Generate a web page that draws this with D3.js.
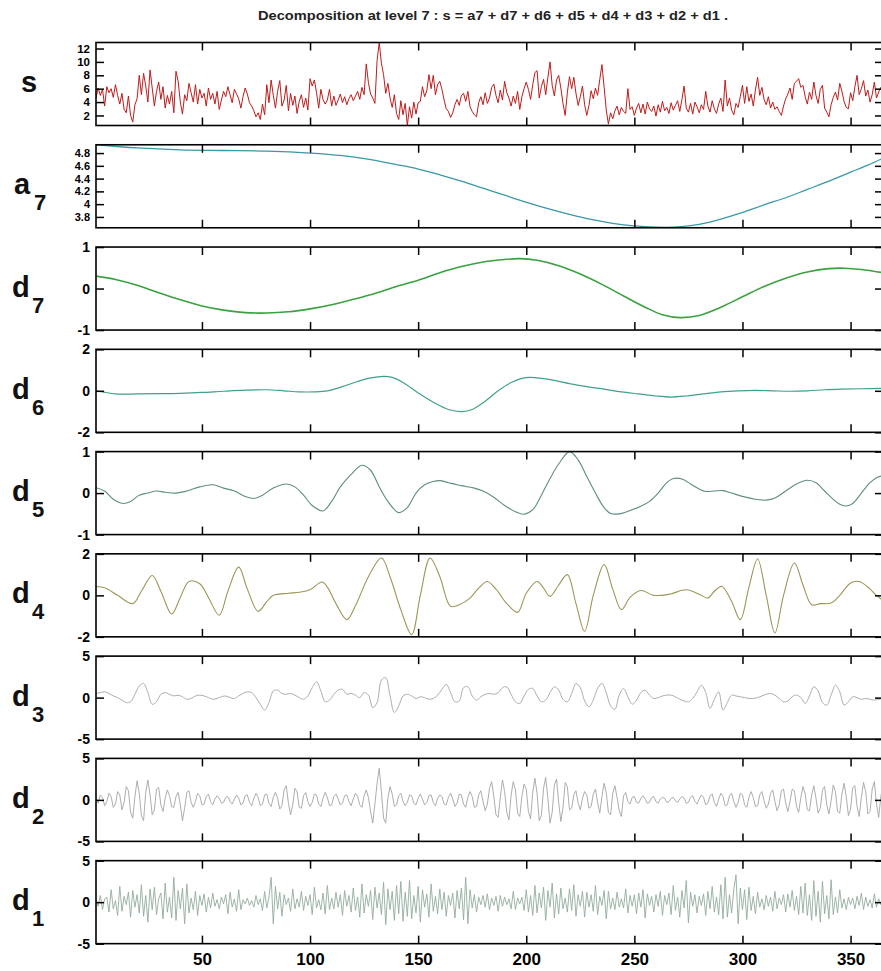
<!DOCTYPE html>
<html>
<head>
<meta charset="utf-8">
<script src="https://cdn.jsdelivr.net/npm/d3@7"></script>
<style>
  html, body { margin: 0; padding: 0; background: #fff; }
  svg { display: block; }
  text { font-family: "Liberation Sans", Arial, Helvetica, sans-serif; }
  .axis text { font-weight: bold; fill: #000; }
  .axis line { stroke: #000; stroke-width: 1.5; }
  .axis path { display: none; }
</style>
</head>
<body>
<svg id="chart" width="881" height="971"></svg>
<script>
// ---- data -------------------------------------------------------------
// Signal s, one value per day (1..365)
const sValues = [
  4.6, 6.1, 5.0, 5.9, 3.4, 6.3, 5.4, 6.0, 4.7, 6.6,
  5.0, 3.7, 5.3, 2.9, 2.4, 4.9, 2.0, 1.0, 3.6, 4.5,
  8.0, 5.1, 8.3, 6.4, 4.0, 8.8, 6.1, 3.4, 5.6, 7.0,
  4.4, 6.3, 3.1, 5.0, 3.7, 5.6, 2.4, 8.6, 7.1, 4.0,
  2.2, 5.1, 4.2, 6.8, 5.4, 4.0, 6.6, 3.7, 5.9, 4.6,
  5.3, 3.4, 6.1, 4.4, 5.3, 3.7, 5.6, 2.9, 4.3, 5.6,
  4.8, 6.3, 5.1, 3.9, 5.9, 5.2, 4.5, 3.1, 4.8, 6.1,
  5.2, 3.9, 3.4, 2.7, 1.8, 2.4, 1.4, 3.7, 2.1, 6.6,
  3.9, 7.3, 5.0, 3.1, 5.6, 7.2, 3.4, 4.3, 6.5, 2.7,
  5.3, 3.5, 4.9, 2.3, 4.1, 5.1, 3.2, 4.6, 2.8, 7.5,
  6.4, 7.3, 5.4, 3.1, 5.9, 4.4, 3.7, 4.3, 5.9, 3.4,
  4.9, 3.5, 4.3, 5.2, 3.9, 4.8, 3.6, 4.5, 5.1, 4.2,
  4.9, 5.6, 4.4, 6.2, 5.1, 9.7, 6.9, 5.2, 4.6, 3.8,
  10.2, 12.9, 9.8, 8.1, 5.3, 6.8, 4.6, 3.2, 5.1, 2.3,
  1.4, 4.2, 2.1, 3.8, 0.5, 3.3, 1.6, 4.0, 2.2, 3.9,
  4.1, 6.3, 4.8, 5.7, 8.1, 6.0, 8.0, 5.1, 6.6, 7.1,
  5.9, 4.3, 3.0, 2.6, 1.7, 2.4, 3.6, 4.4, 3.5, 5.0,
  5.3, 4.1, 5.6, 3.3, 2.6, 2.1, 1.8, 3.9, 4.8, 3.6,
  5.4, 3.8, 4.6, 6.2, 6.7, 5.0, 3.9, 5.8, 4.3, 7.1,
  5.4, 4.6, 3.4, 4.9, 3.8, 5.6, 2.9, 4.8, 6.0, 7.0,
  5.9, 4.4, 6.6, 8.4, 8.7, 4.6, 6.3, 7.4, 5.1, 7.7,
  10.0, 6.5, 4.9, 7.3, 8.0, 6.1, 3.8, 2.0, 5.4, 7.8,
  6.0, 7.7, 5.3, 3.5, 4.8, 6.4, 3.6, 2.0, 3.5, 5.7,
  4.5, 6.1, 5.0, 7.4, 9.6, 6.3, 2.8, 0.7, 2.4, 1.5,
  2.7, 3.4, 2.1, 3.2, 2.6, 2.3, 6.0, 2.9, 3.3, 2.0,
  3.1, 3.8, 2.4, 3.7, 2.2, 4.0, 3.0, 2.6, 3.4, 1.9,
  3.6, 2.5, 4.1, 2.7, 3.2, 2.3, 3.9, 2.8, 3.5, 4.2,
  2.6, 4.4, 6.4, 3.1, 2.5, 3.8, 2.2, 4.0, 3.3, 2.4,
  3.6, 2.9, 5.6, 3.4, 2.5, 4.2, 3.0, 2.3, 3.7, 4.6,
  2.6, 7.3, 3.4, 4.6, 2.8, 2.1, 3.8, 3.2, 4.8, 6.5,
  3.8, 6.3, 4.1, 5.2, 3.4, 5.8, 7.7, 5.0, 6.2, 4.4,
  3.6, 4.8, 3.1, 4.0, 2.9, 3.3, 2.6, 2.0, 3.4, 4.5,
  5.2, 6.1, 4.4, 6.8, 7.1, 7.5, 6.2, 6.5, 4.8, 3.7,
  5.5, 4.4, 7.0, 5.0, 3.8, 5.9, 6.5, 3.1, 2.5, 1.8,
  3.6, 4.7, 5.5, 4.3, 6.8, 5.6, 4.1, 3.2, 3.0, 5.4,
  4.2, 6.3, 8.0, 5.1, 6.0, 7.2, 4.9, 5.8, 4.0, 5.1,
  7.0, 4.6, 5.5, 6.2, 4.8
];

// Approximation a7 (smooth trend), sampled on selected days
const a7Days   = [1, 20, 40, 60, 80, 100, 115, 126, 140, 150, 160, 170, 180, 190, 199, 210, 220, 230, 240, 250, 260, 268, 275, 285, 299, 310, 320, 330, 340, 350, 358, 365];
const a7Values = [4.93, 4.88, 4.85, 4.84, 4.83, 4.80, 4.76, 4.71, 4.62, 4.55, 4.46, 4.36, 4.25, 4.14, 4.04, 3.93, 3.84, 3.76, 3.70, 3.66, 3.64, 3.64, 3.66, 3.72, 3.86, 3.99, 4.10, 4.23, 4.36, 4.50, 4.61, 4.72];

// Detail d7
const d7Days   = [1, 10, 20, 30, 40, 50, 60, 70, 80, 90, 100, 110, 120, 130, 140, 150, 160, 170, 180, 190, 197, 205, 215, 225, 235, 245, 255, 263, 271, 280, 290, 300, 310, 320, 330, 340, 347, 355, 365];
const d7Values = [0.30, 0.22, 0.08, -0.10, -0.27, -0.42, -0.52, -0.58, -0.59, -0.56, -0.49, -0.39, -0.26, -0.12, 0.05, 0.20, 0.38, 0.53, 0.64, 0.70, 0.72, 0.68, 0.55, 0.35, 0.10, -0.18, -0.45, -0.63, -0.70, -0.65, -0.45, -0.20, 0.05, 0.25, 0.40, 0.48, 0.49, 0.46, 0.38];

// Detail d6
const d6Days   = [1, 4, 10, 20, 30, 40, 50, 60, 70, 80, 88, 95, 102, 108, 115, 122, 128, 134, 138, 143, 150, 157, 164, 170, 175, 181, 187, 193, 198, 202, 207, 213, 220, 228, 236, 244, 252, 260, 267, 274, 282, 290, 298, 306, 314, 322, 330, 338, 346, 355, 365];
const d6Values = [0.00, -0.05, -0.15, -0.15, -0.14, -0.12, -0.08, -0.02, 0.03, 0.05, 0.00, -0.05, -0.05, 0.00, 0.20, 0.45, 0.62, 0.70, 0.65, 0.40, -0.10, -0.55, -0.90, -1.00, -0.90, -0.50, 0.00, 0.40, 0.60, 0.65, 0.60, 0.50, 0.35, 0.20, 0.08, -0.05, -0.15, -0.25, -0.30, -0.25, -0.15, -0.05, 0.00, 0.02, 0.00, -0.02, 0.00, 0.05, 0.08, 0.10, 0.12];

// Detail d5
const d5Days   = [1, 5, 9, 13.5, 17, 21, 25, 29, 33, 38, 43, 49, 55, 60, 65, 70, 74, 78, 83, 89, 93, 97, 101, 106, 110, 114, 119, 124, 128, 132, 136, 141, 145, 149, 153, 157, 160, 164, 168, 172, 176, 180, 185, 190, 195, 199, 203, 207, 211, 215, 220, 224, 228, 232, 236, 239, 243, 248, 253, 257, 261, 265, 268, 272, 276, 280, 283, 287, 291, 295, 300, 305, 311, 315, 320, 325, 330, 334, 338, 342, 345, 348, 351, 355, 359, 362, 365];
const d5Values = [0.13, 0.05, -0.15, -0.25, -0.20, -0.05, 0.00, 0.05, 0.02, 0.00, 0.05, 0.15, 0.20, 0.12, 0.05, -0.08, -0.13, -0.05, 0.12, 0.22, 0.15, -0.05, -0.30, -0.43, -0.20, 0.15, 0.45, 0.67, 0.55, 0.15, -0.20, -0.47, -0.35, 0.00, 0.20, 0.28, 0.30, 0.25, 0.20, 0.16, 0.12, 0.05, -0.10, -0.30, -0.45, -0.51, -0.40, -0.05, 0.35, 0.70, 1.00, 0.80, 0.40, 0.00, -0.35, -0.49, -0.50, -0.42, -0.32, -0.20, 0.00, 0.25, 0.35, 0.34, 0.22, 0.10, 0.04, 0.05, 0.06, 0.00, -0.08, -0.14, -0.17, -0.12, 0.05, 0.22, 0.31, 0.25, 0.05, -0.15, -0.27, -0.31, -0.25, 0.00, 0.25, 0.37, 0.42];

// Detail d4
const d4Days   = [1, 5, 11, 18, 22, 27, 31, 36, 40, 44, 49, 53, 58, 62, 67, 71, 76, 80, 83, 90, 95, 100, 105.5, 108, 112, 117, 121, 127, 133, 137, 142, 147, 151, 155.5, 160, 165, 169, 174, 178, 182, 186, 191, 196, 200, 205, 208, 211, 215, 219, 223, 227, 231, 236, 240, 244, 248, 253, 259, 266, 274, 280, 284, 287, 290.5, 295, 299, 303, 307, 311, 315, 319, 324, 328, 332, 336, 341, 345, 350, 354, 358, 362, 365];
const d4Values = [0.43, 0.37, 0.00, -0.40, 0.20, 0.96, 0.20, -0.90, -0.10, 0.67, 0.56, -0.10, -0.96, 0.20, 1.36, 0.30, -0.77, -0.30, 0.00, 0.10, 0.15, 0.27, 0.64, 0.40, -0.40, -1.17, -0.50, 0.90, 1.80, 0.90, -0.70, -1.89, 0.00, 1.80, 0.91, -0.53, -0.45, -0.13, 0.35, 0.67, 0.30, -0.40, -0.82, 0.10, 0.67, 0.35, -0.05, 0.50, 1.00, -0.40, -1.73, 0.00, 1.48, 0.30, -0.69, -0.10, 0.23, 0.00, 0.05, 0.27, 0.05, -0.13, 0.20, 0.43, -0.30, -1.17, 0.40, 1.75, 0.00, -1.81, 0.00, 1.56, 0.50, -0.45, -0.40, -0.37, 0.00, 0.60, 0.67, 0.40, 0.00, -0.25];

// Detail d3, sampled every second day (1, 3, 5, ... 365)
const d3Values = [
  0.5, 0.6, 0.7, 0.5, 0.2, 0.0, -0.3, -0.6, -0.5, 0.4,
  1.4, 1.7, 0.6, -0.8, -0.5, 0.4, 0.6, 0.4, 0.2, 0.3,
  0.1, -0.2, -0.1, 0.2, 0.3, 0.2, 0.0, -0.2, -0.1, 0.1,
  0.2, 0.0, -0.1, 0.2, 0.5, 0.7, 0.6, 0.0, -0.8, -1.5,
  -0.6, 0.8, 0.9, 0.5, 0.4, 0.5, 0.3, 0.0, -0.2, 0.2,
  1.2, 1.9, 0.8, -0.5, -0.3, 0.4, 0.9, 1.0, 0.4, 0.5,
  0.3, 0.0, 0.6, 0.3, -1.2, -0.6, 2.1, 2.4, 0.2, -1.8,
  -1.0, 0.2, 0.4, 0.2, -0.1, 0.1, 0.0, -0.2, -0.1, 0.3,
  1.0, 1.6, 0.6, -0.5, -0.4, 1.2, 1.3, 0.2, -0.3, 0.1,
  0.4, 0.5, 0.4, 0.6, 1.2, 1.3, 0.4, -0.5, -0.7, 0.2,
  1.0, 1.1, 0.2, -0.5, -0.3, 0.6, 1.3, 0.9, -0.2, -0.5,
  0.5, 1.7, 1.2, -0.4, -1.1, -0.3, 1.1, 1.7, 0.6, -1.0,
  -1.4, 0.3, 1.1, 0.1, -0.8, -0.3, 0.6, 0.9, 0.3, -0.1,
  0.0, 0.2, 0.3, 0.3, 0.1, -0.2, -0.4, -0.5, -0.1, 0.7,
  1.5, 0.6, -1.3, -0.2, 0.7, -1.5, -0.6, 0.3, 0.2, 0.1,
  0.0, -0.1, -0.1, 0.0, 0.2, 0.4, 0.5, 0.3, -0.1, -0.5,
  -0.4, 0.1, 0.3, 0.0, -0.7, 0.2, 1.3, 0.8, -0.6, -0.9,
  0.3, 1.5, 0.7, -0.9, -0.5, 0.1, 0.0, -0.2, -0.1, -0.2,
  -0.3, -0.2, -0.1
];

// Detail d2, one value per day
const d2Values = [
  0.2, -0.4, 0.6, 0.3, -0.7, -0.2, 0.8, 0.4, -0.9, -0.5, 1.0, 0.6, -1.2, -0.3, 1.6, 1.1, -1.5, -2.2, 0.4, 2.3,
  0.8, -1.9, -2.5, 0.9, 2.4, 0.6, -1.8, -1.2, 1.3, 1.5, -0.6, -1.4, 0.2, 1.2, 0.5, -0.8, -0.9, 0.4, 0.9, -0.6,
  -2.5, -1.0, 0.9, 1.1, -0.3, -0.9, -0.2, 0.8, 0.5, -0.6, -0.5, 0.4, 0.7, -0.2, -0.6, 0.1, 0.5, 0.2, -0.4, -0.3,
  0.3, 0.4, -0.2, -0.5, 0.1, 0.6, 0.2, -0.6, -0.4, 0.5, 0.6, -0.3, -0.7, 0.2, 0.8, 0.3, -0.7, -0.5, 0.6, 0.7,
  -0.4, -0.8, 0.3, 0.9, 0.2, -1.1, -0.7, 1.2, 1.7, -0.4, -1.8, -0.6, 1.4, 1.0, -0.9, -1.0, 0.5, 0.9, -0.2, -0.8,
  -0.3, 0.7, 0.6, -0.5, -0.8, 0.2, 0.9, 0.3, -0.7, -0.6, 0.4, 0.7, 0.1, -0.6, -0.4, 0.5, 0.6, -0.2, -0.7, 0.1,
  0.8, 0.4, -0.6, -0.9, 0.5, 1.2, 0.3, -1.4, -2.8, -0.5, 2.0, 3.8, 1.0, -2.2, -2.8, 0.2, 1.6, 0.7, -0.8, -0.6,
  0.5, 0.8, -0.2, -0.7, -0.3, 0.6, 0.5, -0.4, -0.6, 0.2, 0.7, 0.1, -0.6, -0.3, 0.5, 0.6, -0.3, -0.7, 0.2, 0.6,
  0.4, -0.5, -0.6, 0.3, 0.8, 0.1, -0.8, -0.4, 0.7, 0.6, -0.5, -0.9, 0.3, 1.0, 0.4, -0.9, -0.8, 0.6, 1.1, -0.2,
  -1.3, -0.5, 1.4, 2.2, 0.4, -1.8, -2.1, 0.3, 2.4, 1.0, -1.5, -2.4, 0.6, 2.2, 1.2, -1.6, -2.0, 0.5, 1.9, 1.3,
  -1.4, -2.3, 0.9, 2.6, 0.8, -2.5, -1.9, 1.4, 2.7, 0.2, -2.8, -1.5, 1.8, 2.5, -0.3, -2.6, -0.9, 2.1, 1.6, -1.2,
  -1.0, 0.6, 1.1, -0.4, -1.2, 0.2, 1.0, 0.6, -1.0, -0.8, 0.7, 1.3, -0.3, -1.6, 0.4, 2.0, 0.9, -1.5, -1.8, 0.8,
  1.7, 0.3, -1.3, -2.0, 0.5, 0.9, -0.2, -0.5, 0.3, 0.4, -0.3, -0.4, 0.2, 0.5, 0.1, -0.4, -0.3, 0.3, 0.4, -0.2,
  -0.4, 0.1, 0.3, 0.2, -0.3, -0.2, 0.2, 0.3, -0.1, -0.3, 0.1, 0.4, 0.2, -0.4, -0.3, 0.3, 0.5, -0.2, -0.5, 0.1,
  0.6, 0.3, -0.6, -0.4, 0.5, 0.7, -0.3, -0.8, 0.1, 0.8, 0.4, -0.7, -0.6, 0.5, 0.8, -0.2, -0.9, -0.3, 0.8, 0.6,
  -0.6, -0.9, 0.3, 1.0, 0.3, -0.8, -0.7, 0.6, 1.0, -0.1, -1.0, -0.5, 0.8, 1.2, -0.2, -1.3, -0.6, 1.1, 1.3, -0.4,
  -1.4, -0.2, 1.3, 1.1, -0.8, -1.5, 0.3, 1.6, 0.7, -1.2, -1.3, 0.6, 1.7, 0.2, -1.6, -1.0, 1.2, 1.6, -0.6, -1.7,
  -0.1, 1.8, 1.0, -1.4, -1.6, 0.7, 2.0, 0.4, -1.9, -1.1, 1.5, 1.7, -0.8, -2.0, 0.3, 2.1, 1.0, -1.7, -1.4, 1.3,
  2.2, -0.5, -2.1, 0.4, 1.8
];

// Detail d1, one value per day
const d1Values = [
  0.3, -0.5, 0.8, -0.9, 0.4, 0.6, -1.2, 1.5, -0.8, 0.2, -1.6, 1.9, -1.1, 0.7, -0.3, 1.2, -1.8, 1.4, -0.6, 0.9,
  -1.3, 2.1, -1.7, 0.8, -2.4, 1.6, -0.9, 1.8, -1.5, 0.4, 1.1, -2.0, 2.3, -1.2, 0.6, -1.9, 3.0, -2.2, 1.4, -0.8,
  1.7, -2.6, 2.2, -1.3, 0.5, -0.9, 1.3, -1.6, 0.8, -0.4, 1.0, -1.2, 0.6, -0.7, 1.1, -0.5, 0.3, -0.8, 0.6, -0.2,
  0.9, -1.4, 1.2, -0.6, 0.4, -1.1, 1.5, -0.9, 0.3, -0.2, 0.5, -0.4, 0.2, -0.6, 0.8, -0.3, 0.4, -1.0, 1.3, -0.7,
  0.6, 3.0, -2.6, 1.9, -0.8, 1.2, -1.7, 0.9, -0.3, 0.5, -1.1, 1.6, -0.8, 0.4, -0.6, 1.3, -1.0, 0.7, -0.4, 0.9,
  -1.5, 1.8, -0.7, 0.3, -0.9, 1.1, -1.4, 2.0, -0.9, 0.5, -0.8, 1.2, -0.6, 0.9, -1.6, 1.4, -0.5, 0.8, -1.2, 1.7,
  -1.0, 0.6, -1.8, 2.2, -1.3, 0.9, -0.5, 1.4, -2.1, 1.8, -0.7, 1.1, -1.5, 2.4, -2.7, 1.6, -0.9, 1.3, -2.2, 2.0,
  -1.4, 2.5, -2.3, 1.2, -1.7, 2.6, -2.0, 0.8, -1.3, 1.9, -2.4, 1.5, -0.6, 1.0, -1.8, 2.2, -1.1, 0.7, -1.4, 1.6,
  -0.9, 1.2, -1.7, 0.8, -0.4, 1.1, -1.9, 1.4, -0.8, 1.7, -2.1, 3.0, -2.6, 1.5, -0.7, 0.9, -1.2, 0.6, -0.3, 0.8,
  -0.6, 1.0, -0.9, 0.5, -0.4, 0.7, -1.1, 0.8, -0.5, 0.6, -0.3, 0.4, -0.8, 1.3, -0.9, 0.5, -0.2, 0.6, -1.0, 1.5,
  -1.2, 0.8, -1.6, 2.0, -1.3, 1.1, -0.7, 1.8, -2.2, 1.4, -0.6, 2.3, -1.9, 1.0, -1.4, 1.7, -0.8, 0.5, -1.2, 1.6,
  -1.0, 2.1, -1.7, 0.9, -0.5, 1.3, -1.8, 1.2, -0.6, 0.9, -1.1, 2.0, -1.5, 0.7, -0.4, 1.4, -2.0, 1.3, -0.8, 0.5,
  -0.9, 1.2, -0.6, 0.4, -0.7, 1.6, -1.3, 0.8, -0.5, 0.9, -1.4, 1.1, -0.6, 1.5, -1.9, 1.0, -0.4, 0.7, -1.2, 0.9,
  -0.5, 1.3, -1.6, 0.8, -0.3, 1.1, -1.5, 2.0, -1.0, 0.6, -1.8, 1.4, -0.7, 2.6, -2.5, 1.2, -0.5, 0.9, -1.3, 0.7,
  -0.4, 1.0, -1.6, 1.3, -0.8, 1.9, -1.2, 0.6, -1.5, 2.1, -2.0, 3.0, -1.8, 0.9, -1.3, 1.6, 3.3, -2.6, 1.7, -0.9,
  1.5, -2.1, 1.8, -1.0, 0.7, -1.4, 1.2, -0.6, 0.4, -0.9, 0.8, -0.5, 0.6, -1.1, 1.3, -0.8, 0.5, -0.3, 0.9, -1.2,
  1.0, -0.6, 1.4, -1.0, 0.7, -1.5, 1.9, -1.3, 2.3, -1.6, 0.9, -2.2, 2.6, -1.7, 1.3, -2.4, 2.5, -1.4, 0.8, -2.0,
  2.7, -1.5, 0.6, -1.3, 1.5, -0.7, 0.4, -0.9, 0.6, -0.3, 0.5, -0.8, 0.7, -0.4, 1.1, -0.9, 0.6, -0.5, 0.3, -0.7,
  1.0, -0.6, 0.4, -0.3, 0.5
];

// Axis tick values
const xTickValues = [50, 100, 150, 200, 250, 300, 350];
const sTicks  = [2, 4, 6, 8, 10, 12];
const a7Ticks = [3.8, 4, 4.2, 4.4, 4.6, 4.8];

const titleText = "Decomposition at level 7 : s = a7 + d7 + d6 + d5 + d4 + d3 + d2 + d1 .";

// ---- layout ----------------------------------------------------------
const svg = d3.select("#chart");
const plotLeft = 96, plotRight = 883;
const firstTop = 42.5, rowStep = 102.27, plotH = 83;
const tickLen = 8;

const x = d3.scaleLinear().domain([1, 365]).range([plotLeft, plotRight]);

const dayIndex = (arr) => arr.map((_, i) => i + 1);
const everyOther = (arr) => arr.map((_, i) => 1 + 2 * i);

const panels = [
  { name: "s", sub: "",  days: dayIndex(sValues), values: sValues,  domain: [0.5, 12.9], ticks: sTicks,  color: "#c01a1a", width: 1.0, curve: d3.curveLinear, nameX: 21, tickFont: 11.5 },
  { name: "a", sub: "7", days: a7Days,            values: a7Values, domain: [3.63, 4.93], ticks: a7Ticks, color: "#3a97a8", width: 1.3, curve: d3.curveCatmullRom, nameX: 14, tickFont: 11 },
  { name: "d", sub: "7", days: d7Days,            values: d7Values, domain: [-1, 1], ticks: [-1, 0, 1], color: "#3aa13f", width: 1.6, curve: d3.curveCatmullRom, nameX: 12, tickFont: 14 },
  { name: "d", sub: "6", days: d6Days,            values: d6Values, domain: [-2, 2], ticks: [-2, 0, 2], color: "#41a08a", width: 1.2, curve: d3.curveCatmullRom, nameX: 12, tickFont: 14 },
  { name: "d", sub: "5", days: d5Days,            values: d5Values, domain: [-1, 1], ticks: [-1, 0, 1], color: "#5e8f7e", width: 1.1, curve: d3.curveCatmullRom, nameX: 12, tickFont: 14 },
  { name: "d", sub: "4", days: d4Days,            values: d4Values, domain: [-2, 2], ticks: [-2, 0, 2], color: "#9d9658", width: 1.1, curve: d3.curveCatmullRom, nameX: 12, tickFont: 14 },
  { name: "d", sub: "3", days: everyOther(d3Values), values: d3Values, domain: [-5, 5], ticks: [-5, 0, 5], color: "#adadad", width: 1.0, curve: d3.curveCatmullRom, nameX: 12, tickFont: 14 },
  { name: "d", sub: "2", days: dayIndex(d2Values), values: d2Values, domain: [-5, 5], ticks: [-5, 0, 5], color: "#a4a4a4", width: 0.9, curve: d3.curveLinear, nameX: 12, tickFont: 14 },
  { name: "d", sub: "1", days: dayIndex(d1Values), values: d1Values, domain: [-5, 5], ticks: [-5, 0, 5], color: "#93ad9c", width: 0.9, curve: d3.curveLinear, nameX: 12, tickFont: 14 }
];

// title
svg.append("text")
  .attr("x", 493).attr("y", 20)
  .attr("text-anchor", "middle")
  .attr("font-size", 13)
  .attr("font-weight", "bold")
  .attr("fill", "#222")
  .attr("textLength", 470)
  .attr("lengthAdjust", "spacingAndGlyphs")
  .text(titleText);

panels.forEach((p, i) => {
  const top = firstTop + i * rowStep;
  const bottom = top + plotH;
  const y = d3.scaleLinear().domain(p.domain).range([bottom, top]);
  const g = svg.append("g");

  const clipId = "clip" + i;
  svg.append("clipPath").attr("id", clipId)
    .append("rect").attr("x", plotLeft).attr("y", top)
    .attr("width", plotRight - plotLeft).attr("height", plotH);

  // series line
  const line = d3.line()
    .x((d, k) => x(p.days[k]))
    .y(d => y(d))
    .curve(p.curve);
  g.append("path")
    .datum(p.values)
    .attr("clip-path", `url(#${clipId})`)
    .attr("fill", "none")
    .attr("stroke", p.color)
    .attr("stroke-width", p.width)
    .attr("stroke-linejoin", "round")
    .attr("d", line);

  // frame
  g.append("rect")
    .attr("x", plotLeft).attr("y", top)
    .attr("width", plotRight - plotLeft).attr("height", plotH)
    .attr("fill", "none").attr("stroke", "#000").attr("stroke-width", 1.6);

  // y axes: labelled on the left, ticks only on the right
  const fmt = d => String(d);
  g.append("g").attr("class", "axis")
    .attr("transform", `translate(${plotLeft},0)`)
    .call(d3.axisLeft(y).tickValues(p.ticks).tickFormat(fmt).tickSizeInner(-tickLen).tickSizeOuter(0).tickPadding(6))
    .selectAll("text").attr("font-size", p.tickFont);
  g.append("g").attr("class", "axis")
    .attr("transform", `translate(${plotRight},0)`)
    .call(d3.axisRight(y).tickValues(p.ticks).tickFormat("").tickSizeInner(-tickLen).tickSizeOuter(0));

  // x axes: ticks on top and bottom, labels only under the last panel
  g.append("g").attr("class", "axis")
    .attr("transform", `translate(0,${top})`)
    .call(d3.axisTop(x).tickValues(xTickValues).tickFormat("").tickSizeInner(-tickLen).tickSizeOuter(0));
  const xb = g.append("g").attr("class", "axis")
    .attr("transform", `translate(0,${bottom})`)
    .call(d3.axisBottom(x).tickValues(xTickValues)
      .tickFormat(i === panels.length - 1 ? (d => String(d)) : "")
      .tickSizeInner(-tickLen).tickSizeOuter(0).tickPadding(9));
  xb.selectAll("text").attr("font-size", 17);

  // panel name with subscript
  const mid = (top + bottom) / 2;
  svg.append("text")
    .attr("x", p.nameX).attr("y", mid + 8)
    .attr("font-size", 29).attr("font-weight", "bold").attr("fill", "#111")
    .text(p.name);
  if (p.sub) {
    svg.append("text")
      .attr("x", p.nameX + 20).attr("y", mid + 24)
      .attr("font-size", 22).attr("font-weight", "bold").attr("fill", "#111")
      .text(p.sub);
  }
});
</script>
</body>
</html>
